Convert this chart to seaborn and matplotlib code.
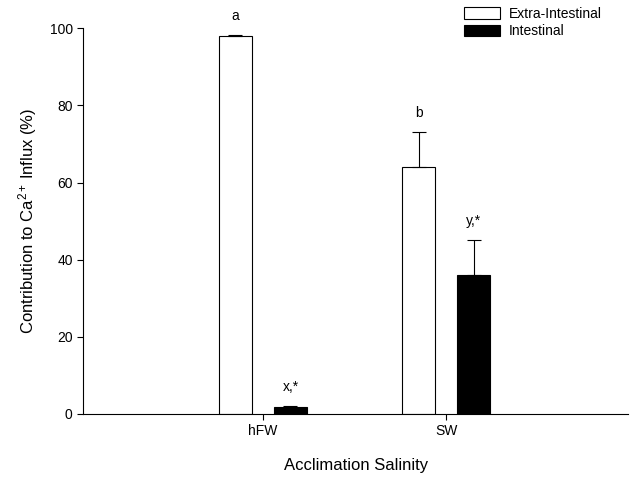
import numpy as np
import pandas as pd
import matplotlib
matplotlib.use("Agg")
import matplotlib.pyplot as plt
import seaborn as sns

# values
salinity = ["hFW", "SW"]
sources = ["Extra-Intestinal", "Intestinal"]
extra_mean = [98.1, 64.0]
extra_err = [0.2, 9.2]
intest_mean = [1.9, 36.0]
intest_err = [0.2, 9.1]
letters_extra = ["a", "b"]
letters_intest = ["x,*", "y,*"]

sns.set_style("ticks")
plt.rcParams['font.family'] = ['Liberation Sans', 'DejaVu Sans']
plt.rcParams['mathtext.default'] = 'regular'
for k in ['text.color', 'axes.labelcolor', 'xtick.color', 'ytick.color', 'axes.edgecolor']:
    plt.rcParams[k] = 'black'

df = pd.DataFrame({
    "Salinity": salinity * 2,
    "Source": [sources[0]] * 2 + [sources[1]] * 2,
    "Value": extra_mean + intest_mean,
})
errs = extra_err + intest_err
labels = letters_extra + letters_intest

fig, ax = plt.subplots(figsize=(6.3, 4.78), dpi=100)
fig.subplots_adjust(left=0.132, right=0.997, top=0.941, bottom=0.134)

sns.barplot(data=df, x="Salinity", y="Value", hue="Source", order=salinity,
            hue_order=sources, palette=["white", "black"], edgecolor="black",
            linewidth=0.8, width=0.6, gap=0.4, errorbar=None, ax=ax)

# error bars (upper only) and letters above each bar
bars = [p for p in ax.patches if p.get_height() > 0][:4]
for bar, err, lab in zip(bars, errs, labels):
    xc = bar.get_x() + bar.get_width() / 2
    h = bar.get_height()
    ax.errorbar(xc, h, yerr=[[0], [err]], fmt="none", ecolor="black",
                elinewidth=0.8, capsize=5, capthick=0.8)
    ax.text(xc, h + err + 3, lab, ha="center", va="bottom", fontsize=10)

ax.set_xlim(-0.98, 1.99)
ax.set_ylim(0, 100)
ax.set_yticks([0, 20, 40, 60, 80, 100])
ax.set_xlabel("Acclimation Salinity", fontsize=12, labelpad=14)
ax.set_ylabel(r"Contribution to Ca$^{2+}\,$Influx (%)", fontsize=12, labelpad=8)
ax.tick_params(labelsize=10, width=0.8, length=4)
for s in ["left", "bottom"]:
    ax.spines[s].set_linewidth(0.8)
sns.despine(ax=ax)

ax.legend(loc="upper left", bbox_to_anchor=(464 / 630, 1 - 7 / 478),
          bbox_transform=fig.transFigure, frameon=False, borderpad=0,
          borderaxespad=0, fontsize=10, handlelength=2.6, handleheight=0.9,
          labelspacing=0.25, handletextpad=0.6)

plt.savefig("out.png", dpi=100)
